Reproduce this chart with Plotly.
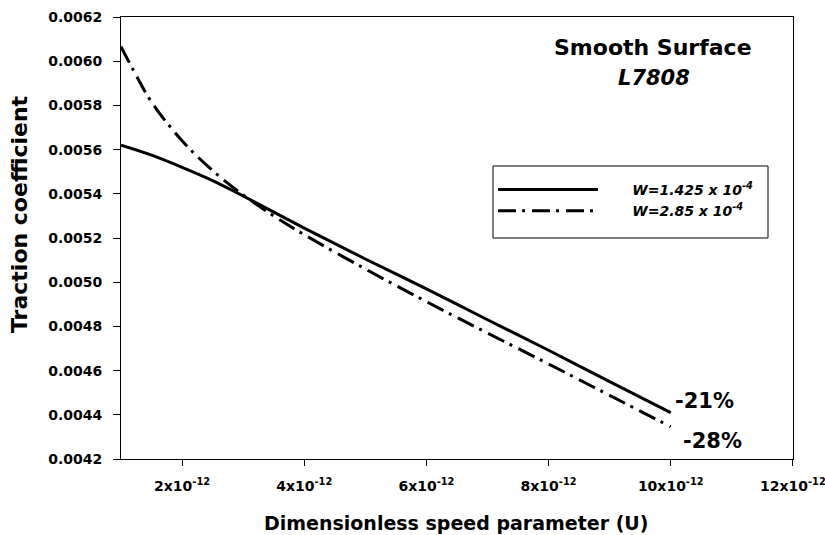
import plotly.graph_objects as go

# ---- data ----
u_w1 = [1e-12, 1.5e-12, 2e-12, 2.5e-12, 3e-12, 4e-12, 5e-12, 6e-12, 7e-12, 8e-12, 9e-12, 10e-12]
tc_w1 = [0.005620, 0.005575, 0.005520, 0.005460, 0.005390, 0.005245, 0.005105,
         0.004970, 0.004830, 0.004692, 0.004550, 0.004410]

u_w2 = [1e-12, 1.25e-12, 1.5e-12, 2e-12, 2.5e-12, 3e-12, 3.5e-12, 4e-12, 5e-12,
        6e-12, 7e-12, 8e-12, 9e-12, 10e-12]
tc_w2 = [0.006066, 0.005935, 0.005815, 0.005640, 0.005505, 0.005395, 0.005300,
         0.005215, 0.005060, 0.004912, 0.004770, 0.004630, 0.004488, 0.004346]

series_names = ["W=1.425 x 10<sup>-4</sup>", "W=2.85 x 10<sup>-4</sup>"]
x_tickvals = [2e-12, 4e-12, 6e-12, 8e-12, 10e-12, 12e-12]
x_ticktext = ["2x10<sup>-12</sup>", "4x10<sup>-12</sup>", "6x10<sup>-12</sup>",
              "8x10<sup>-12</sup>", "10x10<sup>-12</sup>", "12x10<sup>-12</sup>"]

FONT = "DejaVu Sans"
PAD = "&nbsp;" * 6

fig = go.Figure()
fig.add_trace(go.Scatter(x=u_w1, y=tc_w1, mode="lines", name=PAD + series_names[0],
                         line=dict(color="black", width=3, shape="spline")))
fig.add_trace(go.Scatter(x=u_w2, y=tc_w2, mode="lines", name=PAD + series_names[1],
                         line=dict(color="black", width=3, shape="spline",
                                   dash="18px,6px,3px,7px")))

fig.update_layout(
    width=825, height=535,
    margin=dict(l=121, r=32, t=17, b=76, autoexpand=False),
    paper_bgcolor="white", plot_bgcolor="white",
    font=dict(family=FONT, color="black", size=14, weight="bold"),
    showlegend=True,
    legend=dict(x=0.5536, y=0.645, xanchor="left", yanchor="top",
                bgcolor="rgba(255,255,255,0)", borderwidth=0,
                itemwidth=100,
                font=dict(family=FONT, size=14, weight="bold", style="italic")),
    xaxis=dict(range=[1e-12, 12.002e-12], tickvals=x_tickvals, ticktext=x_ticktext,
               showline=True, linecolor="black", linewidth=1, mirror=True,
               ticks="outside", ticklen=6, tickwidth=1, tickcolor="black",
               showgrid=False, zeroline=False, ticklabelstandoff=8,
               ticklabeloverflow="allow", automargin=False,
               tickfont=dict(family=FONT, size=14, weight="bold")),
    yaxis=dict(range=[0.0042, 0.0062], dtick=0.0002, tick0=0.0042, tickformat=".4f",
               showline=True, linecolor="black", linewidth=1, mirror=True,
               ticks="outside", ticklen=7, tickwidth=1, tickcolor="black",
               showgrid=False, zeroline=False, ticklabelstandoff=8, automargin=False,
               tickfont=dict(family=FONT, size=14, weight="bold")),
    shapes=[dict(type="rect", xref="paper", yref="paper",
                 x0=0.5536, x1=0.9628, y0=0.5000, y1=0.6629,
                 line=dict(color="black", width=1), fillcolor="rgba(0,0,0,0)")],
    annotations=[
        dict(text="Smooth Surface", xref="paper", yref="paper", x=0.7917, y=0.930,
             showarrow=False, xanchor="center", yanchor="middle",
             font=dict(family=FONT, size=22, weight="bold")),
        dict(text="L7808", xref="paper", yref="paper", x=0.7932, y=0.862,
             showarrow=False, xanchor="center", yanchor="middle",
             font=dict(family=FONT, size=21, weight="bold", style="italic")),
        dict(text="-21%", xref="x", yref="y", x=10.04e-12, y=0.004464,
             showarrow=False, xanchor="left", yanchor="middle",
             font=dict(family=FONT, size=21, weight="bold")),
        dict(text="-28%", xref="x", yref="y", x=10.17e-12, y=0.004283,
             showarrow=False, xanchor="left", yanchor="middle",
             font=dict(family=FONT, size=21, weight="bold")),
        dict(text="Traction coefficient", xref="paper", yref="paper", x=-0.1503, y=0.5543,
             showarrow=False, xanchor="center", yanchor="middle", textangle=-90,
             font=dict(family=FONT, size=22, weight="bold")),
        dict(text="Dimensionless speed parameter (U)", xref="paper", yref="paper",
             x=0.4985, y=-0.1448, showarrow=False, xanchor="center", yanchor="middle",
             font=dict(family=FONT, size=19, weight="bold")),
    ],
)

fig.write_html("out.html", config={"displayModeBar": False},
               post_script="document.body.style.margin='0px';document.body.style.overflow='hidden';")
